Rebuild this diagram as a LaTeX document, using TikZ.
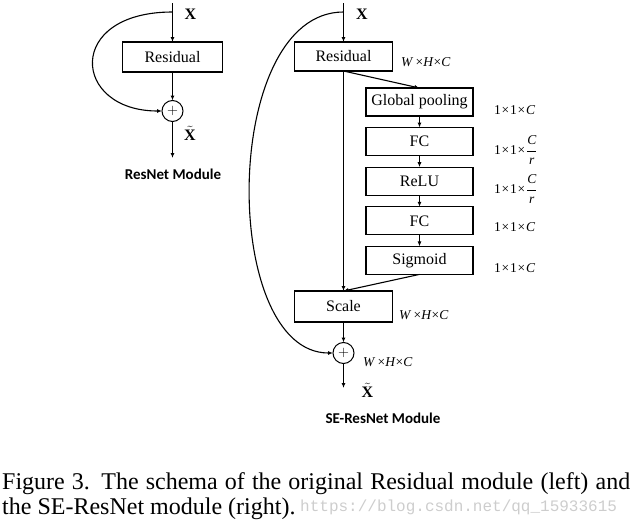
\documentclass[tikz,border=0pt]{standalone}
\usepackage{fontspec}
\setmainfont{Liberation Serif}
\newfontfamily\modfont{Carlito}
\newfontfamily\wmfont{Liberation Mono}
\usetikzlibrary{arrows.meta,positioning}
\definecolor{wmgray}{RGB}{205,205,205}
\newcommand{\tms}{\kern0.8pt×\kern0.8pt}
\newcommand{\dimWHC}{\textit{W}\,×\textit{H}×\textit{C}}
\newcommand{\dimC}{1\tms1\tms\textit{C}}
\newcommand{\dimCr}{1\tms1\tms${\displaystyle\frac{\textit{C}}{\textit{r}}}$}
\newcommand{\xtilde}{$\tilde{\hbox{X}}$}

\begin{document}
\begin{tikzpicture}[
      x=1pt, y=-1pt,
      block/.style={draw, line width=1.3pt, outer sep=0pt, inner sep=0pt,
        minimum height=29pt, font={\fontsize{16}{18}\selectfont}},
      sebox/.style={block, minimum width=107pt, minimum height=28pt},
      sumnode/.style={draw, circle, line width=1pt, outer sep=0pt, inner sep=0pt,
        minimum size=21pt, font={\fontsize{15}{15}\selectfont}},
      flow/.style={draw, line width=1.1pt, -{Latex[length=5pt,width=4pt]}},
      dimlab/.style={inner sep=0, anchor=west, font={\fontsize{13.5}{16}\selectfont}},
      xlab/.style={inner sep=0, font={\fontsize{16}{19}\bfseries\selectfont}},
      modlab/.style={inner sep=0, font={\modfont\bfseries\fontsize{15}{18}\selectfont}},
      caption/.style={inner sep=0, anchor=base west, font={\fontsize{24}{25}\selectfont}}
  ]
  \useasboundingbox (0,0) rectangle (633,525);
  % ResNet module
  \node[block, minimum width=100pt, minimum height=30pt] (res1) at (172.5,57) {Residual};
  \node[sumnode] (sum1) at (172.5,111) {$+$};
  \coordinate (in1) at (172.5,3);
  \coordinate (tap1) at (172.5,12);
  \coordinate (out1) at (172.5,158);
  \draw[flow] (in1) -- (res1);
  \draw[flow] (res1) -- (sum1);
  \draw[flow] (sum1) -- (out1);
  \draw[flow] (tap1) .. controls +(-108,0) and +(-90,0) .. (sum1.west);
  \node[xlab] (x1) at (190.5,14) {X};
  \node[xlab] (xt1) at (190,133) {\xtilde};
  \node[modlab] (name1) at (173,174) {ResNet Module};
  % SE-ResNet module
  \node[block, minimum width=98pt] (res2) at (343.5,56.5) {Residual};
  \node[sebox] (gp) at (419.5,102) {Global pooling};
  \node[sebox, below=11.6pt of gp] (fc1) {FC};
  \node[sebox, below=11.6pt of fc1] (relu) {ReLU};
  \node[sebox, below=11.6pt of relu] (fc2) {FC};
  \node[sebox, below=11.6pt of fc2] (sig) {Sigmoid};
  \node[block, minimum width=98pt, minimum height=31pt] (scale) at (343.5,306.5) {Scale};
  \node[sumnode] (sum2) at (343.5,353) {$+$};
  \coordinate (in2) at (343.5,3);
  \coordinate (tap2) at (343.5,12);
  \coordinate (out2) at (343.5,388);
  \draw[flow] (in2) -- (res2);
  \draw[flow] (res2) -- (scale);
  \draw[flow] (res2.south) -- (gp.north);
  \foreach \a/\b in {gp/fc1, fc1/relu, relu/fc2, fc2/sig}
    \draw[flow] (\a) -- (\b);
  \draw[flow] (sig.south) -- (scale.north);
  \draw[flow] (scale) -- (sum2);
  \draw[flow] (sum2) -- (out2);
  \draw[flow] (tap2) .. controls +(-123,0) and +(-113,0) .. (sum2.west);
  \node[xlab] (x2) at (362,14) {X};
  \node[xlab] (xt2) at (367.5,390) {\xtilde};
  \node[modlab] (name2) at (383,418) {SE-ResNet Module};
  % shapes
  \node[dimlab] (d-res) at (401,62) {\dimWHC};
  \node[dimlab] (d-gp) at (494,110) {\dimC};
  \node[dimlab] (d-fc1) at (494,150) {\dimCr};
  \node[dimlab] (d-relu) at (494,189) {\dimCr};
  \node[dimlab] (d-fc2) at (494,227.5) {\dimC};
  \node[dimlab] (d-sig) at (494,268) {\dimC};
  \node[dimlab] (d-scale) at (399,315) {\dimWHC};
  \node[dimlab] (d-sum) at (363,362) {\dimWHC};
  % caption
  \node[caption] (cap1) at (2,489)
    {\makebox[628pt][s]{Figure 3. The schema of the original Residual module (left) and}};
  \node[caption] (cap2) at (2,514) {the SE-ResNet module (right).};
  \node[inner sep=0, anchor=base west, text=wmgray, font={\wmfont\fontsize{16}{18}\selectfont}]
    (wm) at (300,511) {https://blog.csdn.net/qq\_15933615};
\end{tikzpicture}
\end{document}
